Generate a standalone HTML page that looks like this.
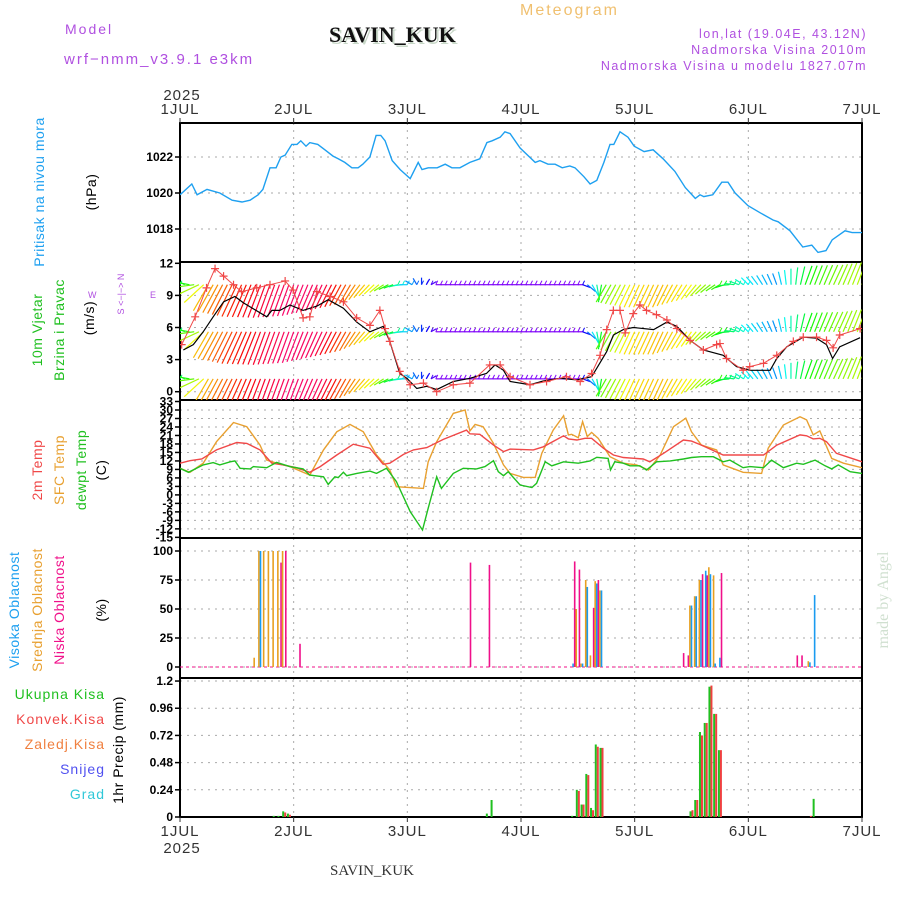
<!DOCTYPE html>
<html><head><meta charset="utf-8">
<style>
html,body{margin:0;padding:0;background:#fff;}
svg{display:block;font-family:"Liberation Sans",sans-serif;}
.tk{font-size:12px;font-weight:bold;fill:#000;text-anchor:end;}
.day{font-size:15px;fill:#333;text-anchor:middle;letter-spacing:1px;}
.lab{font-size:14px;text-anchor:middle;letter-spacing:0.5px;}
.grid{stroke:#aaa;stroke-width:1;stroke-dasharray:2,5;fill:none;}
</style></head>
<body>
<svg id="chart" width="900" height="900" viewBox="0 0 900 900">
<defs>
<clipPath id="cpP"><rect x="180" y="123" width="682" height="139"/></clipPath>
<clipPath id="cpW"><rect x="180" y="262" width="682" height="138"/></clipPath>
<clipPath id="cpT"><rect x="180" y="400" width="682" height="138"/></clipPath>
</defs>
<text x="65" y="34" font-size="14" fill="#b050e0" letter-spacing="2">Model</text>
<text x="64" y="64" font-size="15" fill="#b050e0" letter-spacing="2">wrf−nmm_v3.9.1 e3km</text>
<text x="331" y="44" font-size="22" font-weight="bold" font-family="Liberation Serif,serif" fill="#c8d8c8">SAVIN_KUK</text>
<text x="329" y="42" font-size="22" font-weight="bold" font-family="Liberation Serif,serif" fill="#111">SAVIN_KUK</text>
<text x="520" y="15" font-size="16" fill="#f0c070" letter-spacing="2">Meteogram</text>
<text x="867" y="38" font-size="12.5" fill="#b050e0" text-anchor="end" letter-spacing="1.5">lon,lat (19.04E, 43.12N)</text>
<text x="867" y="54" font-size="12.5" fill="#b050e0" text-anchor="end" letter-spacing="1.5">Nadmorska Visina 2010m</text>
<text x="867" y="70" font-size="12.5" fill="#b050e0" text-anchor="end" letter-spacing="1.5">Nadmorska Visina u modelu 1827.07m</text>

<g id="axes"></g>
<g id="series"></g>

<text class="lab" transform="translate(44,192) rotate(-90)" fill="#1ea0f0">Pritisak na nivou mora</text>
<text class="lab" transform="translate(96,192) rotate(-90)" fill="#000">(hPa)</text>
<text class="lab" transform="translate(42,330) rotate(-90)" fill="#20c020">10m Vjetar</text>
<text class="lab" transform="translate(64,330) rotate(-90)" fill="#20c020">Brzina i Pravac</text>
<text class="lab" transform="translate(94,318) rotate(-90)" fill="#000">(m/s)</text>
<text x="88" y="298" font-size="9" fill="#b050e0">W</text>
<text x="150" y="298" font-size="9" fill="#b050e0">E</text>
<text transform="translate(124,294) rotate(-90)" font-size="9" fill="#b050e0" text-anchor="middle">S &lt;−|−&gt; N</text>
<text class="lab" transform="translate(42,470) rotate(-90)" fill="#f04848">2m Temp</text>
<text class="lab" transform="translate(64,470) rotate(-90)" fill="#e8a030">SFC Temp</text>
<text class="lab" transform="translate(86,470) rotate(-90)" fill="#20c020">dewpt Temp</text>
<text class="lab" transform="translate(106,470) rotate(-90)" fill="#000">(C)</text>
<text class="lab" transform="translate(19,610) rotate(-90)" fill="#1ea0f0">Visoka Oblacnost</text>
<text class="lab" transform="translate(42,610) rotate(-90)" fill="#e8a030">Srednja Oblacnost</text>
<text class="lab" transform="translate(64,610) rotate(-90)" fill="#f0108a">Niska Oblacnost</text>
<text class="lab" transform="translate(106,610) rotate(-90)" fill="#000">(%)</text>
<text x="105" y="699" font-size="14" fill="#20c020" text-anchor="end" letter-spacing="1">Ukupna Kisa</text>
<text x="105" y="724" font-size="14" fill="#f04848" text-anchor="end" letter-spacing="1">Konvek.Kisa</text>
<text x="105" y="749" font-size="14" fill="#f08040" text-anchor="end" letter-spacing="1">Zaledj.Kisa</text>
<text x="105" y="774" font-size="14" fill="#5050f0" text-anchor="end" letter-spacing="1">Snijeg</text>
<text x="105" y="799" font-size="14" fill="#30c8d8" text-anchor="end" letter-spacing="1">Grad</text>
<text class="lab" transform="translate(123,750) rotate(-90)" fill="#000">1hr Precip (mm)</text>
<text transform="translate(888,600) rotate(-90)" font-size="16" font-family="Liberation Serif,serif" fill="#d0e0d0" text-anchor="middle">made by Angel</text>
<text x="330" y="875" font-size="15" font-family="Liberation Serif,serif" fill="#333">SAVIN_KUK</text>
</svg>
<script>
const dayLabels = ["1JUL","2JUL","3JUL","4JUL","5JUL","6JUL","7JUL"];
const presTicks = [1018,1020,1022];
const windTicks = [0,3,6,9,12];
const tempTicks = [33,30,27,24,21,18,15,12,9,6,3,0,-3,-6,-9,-12,-15];
const cloudTicks = [0,25,50,75,100];
const precipTicks = [0,0.24,0.48,0.72,0.96,1.2];

const presHours = [0,2.5,3.6,5.7,8.4,11,13.1,14.8,16.5,17.5,19,20.3,21.3,22.2,23.6,24.7,25.5,26.6,27.4,29.1,30.6,32.3,33.4,34.8,36.3,37.6,38.6,40.1,41.4,42.4,43.3,44.8,46.5,48.6,50.3,51.1,52.4,54.3,56,57.4,59.1,61.2,63.3,64.8,65.9,67.6,68.6,69.7,71.8,75,76,77.7,79.2,80.7,82.3,83.4,85.3,86.6,88,89.5,90.8,91.6,92.9,94.6,95.9,98,99.9,102,104.5,106.7,108.8,109.8,110.6,112.5,114.4,115.7,117.2,119.9,122.5,125.2,126.3,128.8,131.5,133.4,134.7,136.4,137.7,140.4,141.9,144];
const presVals = [1019.9,1020.5,1019.9,1020.2,1020.0,1019.6,1019.5,1019.6,1019.9,1020.2,1021.4,1021.4,1022.0,1022.1,1022.7,1022.7,1022.9,1022.6,1022.8,1022.7,1022.4,1022.05,1021.9,1021.7,1021.4,1021.4,1021.6,1022.0,1023.2,1023.2,1022.9,1021.8,1021.3,1020.8,1021.7,1021.3,1021.4,1021.4,1021.6,1021.4,1021.4,1021.7,1021.9,1022.8,1022.9,1023.1,1023.4,1023.3,1022.5,1021.7,1021.8,1021.6,1021.6,1021.4,1021.5,1021.4,1020.9,1020.5,1020.7,1021.7,1022.7,1022.7,1023.4,1023.1,1022.6,1022.3,1022.4,1021.9,1021.2,1020.3,1019.7,1019.9,1019.8,1019.9,1020.6,1020.6,1020.0,1019.3,1018.9,1018.5,1018.4,1017.9,1017.0,1017.1,1016.7,1016.8,1017.4,1017.9,1017.8,1017.8];

const speedHours = [0.7,2.8,4.9,7.0,9.2,11.6,13.4,18.3,19.4,21.1,23.2,26.0,28.9,31.3,34.5,37.3,40.1,42.9,44.3,46.4,47.9,50.0,52.1,54.2,57.7,61.2,64.7,66.5,68.3,69.7,73.9,76.7,80.2,83.8,86.9,88.0,90.1,91.5,93.6,95.7,100.0,102.8,104.9,107.7,110.5,114.7,117.5,120.3,124.6,126.0,128.1,131.6,134.4,136.5,137.8,139.3,143.6];
const speedVals = [3.9,4.4,5.6,7.0,8.4,8.9,8.3,7.0,7.6,7.6,8.1,7.6,8.0,8.6,7.8,6.5,5.6,6.1,4.7,1.7,1.25,0.3,0.5,0.2,0.95,1.25,1.7,2.5,2.0,0.95,0.65,1.0,1.25,1.1,1.4,2.2,3.75,5.3,5.8,6.0,5.8,6.5,6.1,4.8,3.9,3.4,2.35,2.0,2.0,3.1,4.2,5.1,5.0,4.4,3.1,4.2,5.05];
const gustHours = [0.35,3.2,5.6,7.4,9.2,11.3,13.0,16.2,19.0,22.2,23.9,26.0,27.4,28.9,31.7,34.5,37.3,40.1,42.2,43.3,44.3,46.4,48.6,51.4,54.2,57.7,61.2,65.4,67.6,69.7,73.9,77.4,81.6,84.5,86.9,88.7,90.1,91.5,92.9,94.0,95.7,97.1,98.5,100.6,102.8,104.9,107.7,110.5,113.3,114.0,115.4,118.9,120.3,123.2,126.0,129.5,131.6,134.4,136.5,137.9,139.3,143.6];
const gustVals = [4.4,7.0,9.7,11.5,10.8,10.0,9.35,9.7,10.0,10.35,9.5,6.9,7.0,9.35,8.9,8.4,6.9,6.2,7.6,5.9,4.7,1.9,0.65,0.8,0.0,0.65,0.8,2.5,2.5,1.4,0.65,0.95,1.4,0.95,1.7,3.4,5.8,7.6,7.6,5.5,7.3,8.1,7.6,7.2,6.7,5.9,4.8,3.9,4.4,4.5,3.1,2.0,2.35,2.65,3.4,4.7,5.1,5.1,4.8,4.1,5.3,5.9];

const barbHours = [0,6,12,18,24,30,36,42,48,54,60,66,72,78,84,90,96,102,108,114,120,126,132,138,144];
const barbSpeed = [2.7,10,11.7,11.7,11,9.3,7.3,4,2.7,2,2,2,2,2,2,6.7,8.3,8.3,6,3.3,3.3,4,6.7,7.3,8.3];
const barbDir = [225,120,115,110,110,115,120,140,180,360,360,360,360,360,360,480,475,475,485,510,585,610,650,655,650];
const barbHue = [150,45,10,-10,-25,-20,25,70,190,270,270,270,270,270,270,100,55,45,60,110,180,205,120,90,75];
const barbLevels = [10,5.6,1.2];

const t2Hours = [0,2.1,4.6,7.7,12.0,14.1,16.9,19.4,21.8,24.6,27.4,29.6,33.1,36.6,40.1,42.9,44.3,47.2,49.3,52.1,55.6,60.5,61.2,63.3,66.2,68.3,69.7,74.6,76.7,81.0,82.0,83.8,85.5,86.9,89.4,91.5,93.6,97.8,99.2,102.1,106.3,108.0,110.1,114.7,118.9,123.2,126.0,130.9,132.3,133.7,135.1,136.5,138.6,144];
const t2Vals = [11.2,12.1,12.7,15.9,18.5,18.2,15.9,11.2,10.6,9.6,8.0,10.0,14.1,17.9,16.5,10.8,11.2,14.3,15.9,16.7,19.6,22.9,21.6,21.4,17.6,15.3,16.2,15.9,17.0,20.9,19.8,19.4,20.0,20.0,16.5,14.1,13.2,12.7,11.7,14.7,19.4,19.0,17.6,14.1,14.1,14.1,17.6,21.2,20.9,19.8,20.0,18.8,14.7,11.7];
const sfcHours = [0,2.1,4.9,7.7,11.3,14.1,16.9,18.3,20.4,23.2,27.4,30.3,33.1,35.9,38.7,41.5,44.3,45.7,51.4,52.4,54.2,57.7,60.2,61.2,62.3,64.0,66.2,68.3,69.7,72.5,75.0,76.4,78.8,81.0,82.0,82.7,84.1,85.0,86.0,86.9,88.3,90.8,93.6,96.4,98.9,101.4,104.2,106.8,108.0,110.1,113.3,114.7,118.9,122.8,124.2,127.4,130.9,132.3,133.7,135.1,137.6,140.1,144];
const sfcVals = [9.4,8.0,11.2,18.8,25.6,24.1,17.6,12.3,11.2,10.0,7.0,15.9,22.3,24.9,22.3,14.1,8.8,2.9,2.3,11.7,18.8,28.8,30.0,22.6,24.9,24.1,18.2,10.6,7.6,6.2,6.2,14.7,22.9,28.0,21.2,21.4,20.2,25.9,20.6,22.1,20.0,13.5,11.2,10.6,8.8,14.1,24.1,27.1,22.3,17.6,15.9,10.6,8.0,7.6,16.5,24.7,27.6,26.5,21.2,22.6,12.9,11.2,9.6];
const dewHours = [0,1.8,4.9,7.0,8.4,10.6,11.6,12.7,14.8,15.5,18.3,20.4,23.2,26.0,27.4,30.3,31.3,32.7,33.4,34.5,35.2,37.3,40.1,41.5,43.6,45.7,48.6,51.2,52.4,54.2,55.2,57.7,59.8,62.6,64.4,66.2,67.2,68.3,69.3,71.8,74.3,75.3,77.1,78.5,81.0,84.1,86.6,88.0,90.4,90.9,91.8,93.6,95.0,97.1,98.5,100.6,103.5,106.3,108.0,110.1,112.6,114.7,116.1,118.9,120.3,123.2,124.9,127.4,130.2,131.6,134.1,136.2,137.6,139.0,141.5,144];
const dewVals = [9.4,8.0,10.6,11.4,10.6,11.7,12.0,9.4,9.2,10.0,9.6,11.5,10.0,9.2,7.0,6.4,3.7,6.4,6.1,8.0,6.8,7.6,8.4,7.6,9.4,4.7,-5.9,-12.4,-4.7,6.4,2.3,7.6,9.4,9.2,10.0,12.1,8.2,6.8,8.2,3.5,2.6,4.1,11.7,10.3,11.7,11.2,12.0,13.3,12.9,8.8,11.7,11.2,10.3,10.3,8.8,11.7,12.0,12.7,13.2,13.5,13.5,11.7,12.3,9.6,10.0,9.6,12.3,9.6,11.2,10.8,12.3,10.3,9.2,10.6,8.2,7.6];

const cloudHours = [16,17,18,19,20,21,22,25,61,65,83,84,85,86,87,88,89,106,107,108,109,110,111,112,113,114,130,131,133,134];
const cloudHigh = [0,100,0,0,0,0,0,0,0,0,3,0,3,69,0,72,66,0,0,53,61,75,83,80,3,8,0,0,4,62];
const cloudMid = [8,100,100,100,100,100,100,0,0,0,0,50,3,75,10,74,66,0,0,53,61,75,0,86,79,0,0,0,5,0];
const cloudLow = [0,0,0,0,0,90,100,20,90,88,91,84,0,0,51,75,0,12,10,0,0,80,79,0,0,81,10,10,0,0];

const precipHours = [20,21,22,23,65,66,83,84,85,86,87,88,89,108,109,110,111,112,113,114,133,134];
const precipTotal = [0.01,0.01,0.05,0.03,0.03,0.15,0.01,0.24,0.11,0.38,0.08,0.64,0.61,0.05,0.15,0.75,0.83,1.15,0.91,0.59,0,0.16];
const precipConv = [0,0,0.04,0.02,0,0,0,0.23,0.11,0.37,0.06,0.62,0.61,0.06,0.15,0.72,0.83,1.16,0.91,0.59,0.01,0];

const X0=180, X1=862, HMAX=144;
const xS = h => X0 + h*(X1-X0)/HMAX;
const yP = v => 157 - (v-1022)*18;
const yW = v => 391.7 - v*10.7;
const yT = v => 410 - (v-30)*2.83;
const yC = v => 667 - v*1.16;
const yR = v => 817 - v*113.3;
const NS='http://www.w3.org/2000/svg';
function mk(tag, attrs, parent){
  const e=document.createElementNS(NS,tag);
  for(const k in attrs) e.setAttribute(k,attrs[k]);
  parent.appendChild(e); return e;
}
const axes=document.getElementById('axes');
const ser=document.getElementById('series');

const panels=[[123,262,presTicks,yP,'pressure'],[262,400,windTicks,yW,'wind'],[400,538,tempTicks,yT,'temp'],[538,678,cloudTicks,yC,'cloud'],[678,817,precipTicks,yR,'precip']];
panels.forEach(p=>{
  for(let d=1; d<6; d++){
    const l=mk('line',{x1:xS(d*24),x2:xS(d*24),y1:p[0],y2:p[1],class:'grid'},axes);
    
    
  }
  p[2].forEach(t=>{
    const y=p[3](t);
    if(y>p[0]+2 && y<p[1]-2){
      const g=mk('line',{x1:X0,x2:X1,y1:y,y2:y,class:'grid'},axes);
      
      
    }
    mk('line',{x1:X0-5,x2:X0,y1:y,y2:y,stroke:'#000','stroke-width':1.5},axes);
    const lbl=mk('text',{x:X0-7,y:y+4,class:'tk'},axes);
    lbl.textContent = (p[4]==='precip' && t!==0 && t!==1.2) ? t.toFixed(2) : String(t);
    
    
  });
  const r=mk('rect',{x:X0,y:p[0],width:X1-X0,height:p[1]-p[0],fill:'none',stroke:'#000','stroke-width':2},axes);
  
  
});
dayLabels.forEach((d,i)=>{
  const x=xS(i*24);
  mk('line',{x1:x,x2:x,y1:118,y2:123,stroke:'#333'},axes);
  mk('line',{x1:x,x2:x,y1:817,y2:822,stroke:'#333'},axes);
  const t=mk('text',{x:x,y:114,class:'day'},axes); t.textContent=d;
  
  
  const b=mk('text',{x:x,y:836,class:'day'},axes); b.textContent=d;
  
  
});
const y1=mk('text',{x:182,y:100,class:'day'},axes); y1.textContent='2025';


const y2=mk('text',{x:182,y:853,class:'day'},axes); y2.textContent='2025';



function line(hours, vals, ys, color, clip, name, w){
  const d=hours.map((h,i)=>(i?'L':'M')+xS(h).toFixed(1)+','+ys(vals[i]).toFixed(1)).join('');
  const p=mk('path',{d:d,fill:'none',stroke:color,'stroke-width':w||1.4,'clip-path':'url(#'+clip+')'},ser);
  
  
  return p;
}
line(presHours,presVals,yP,'#1ea0f0','cpP','pressure-line');

function interp(arr,h){
  for(let i=0;i<barbHours.length-1;i++){
    if(h<=barbHours[i+1]){const f=(h-barbHours[i])/(barbHours[i+1]-barbHours[i]);return arr[i]+f*(arr[i+1]-arr[i]);}
  }
  return arr[arr.length-1];
}
const bg=mk('g',{'clip-path':'url(#cpW)'},ser);


barbLevels.forEach(lv=>{
  for(let h=0;h<=144;h+=1){
    const sp=interp(barbSpeed,h), a=interp(barbDir,h)*Math.PI/180, hue=(interp(barbHue,h)+360)%360;
    const len=sp*3, x=xS(h), y=yW(lv);
    const col='hsl('+hue+',95%,50%)';
    const l=mk('line',{x1:x,y1:y,x2:x+len*Math.cos(a),y2:y+len*Math.sin(a),stroke:col,'stroke-width':1.2},bg);
    
    
    if(len<10){
      mk('line',{x1:x,y1:y,x2:x+2,y2:y-4,stroke:col,'stroke-width':1},bg);
    }
  }
});
line(speedHours,speedVals,yW,'#000','cpW','wind-speed-line',1.2);
line(gustHours,gustVals,yW,'#f04848','cpW','wind-gust-line',1);
gustHours.forEach((h,i)=>{
  const x=xS(h), y=yW(gustVals[i]);
  const m=mk('path',{d:'M'+(x-4)+','+y+'h8M'+x+','+(y-4)+'v8',stroke:'#f04848','stroke-width':1.2,'clip-path':'url(#cpW)'},ser);
  
  
});

line(sfcHours,sfcVals,yT,'#e8a030','cpT','sfc-temp-line');
line(t2Hours,t2Vals,yT,'#f04848','cpT','temp-2m-line');
line(dewHours,dewVals,yT,'#20c020','cpT','dewpoint-line');

const cb=mk('line',{x1:X0,x2:X1,y1:yC(0),y2:yC(0),stroke:'#f0108a','stroke-width':1,'stroke-dasharray':'3,3'},ser);


cloudHours.forEach((h,i)=>{
  const x=xS(h);
  [[cloudMid[i],'#e8a020',-1.6,'mid-cloud-bar'],[cloudHigh[i],'#1a9bf0',0,'high-cloud-bar'],[cloudLow[i],'#f0108a',1.6,'low-cloud-bar']].forEach(s=>{
    if(s[0]<=0) return;
    const r=mk('rect',{x:x+s[2]-0.8,y:yC(s[0]),width:1.6,height:yC(0)-yC(s[0]),fill:s[1]},ser);
    
    
  });
});
precipHours.forEach((h,i)=>{
  const x=xS(h);
  if(precipTotal[i]>0){
    const r=mk('rect',{x:x-2,y:yR(precipTotal[i]),width:2,height:yR(0)-yR(precipTotal[i]),fill:'#20c020'},ser);
    
    
  }
  if(precipConv[i]>0){
    const r=mk('rect',{x:x,y:yR(precipConv[i]),width:2,height:yR(0)-yR(precipConv[i]),fill:'#f04040'},ser);
    
    
  }
});
</script>
</body></html>
